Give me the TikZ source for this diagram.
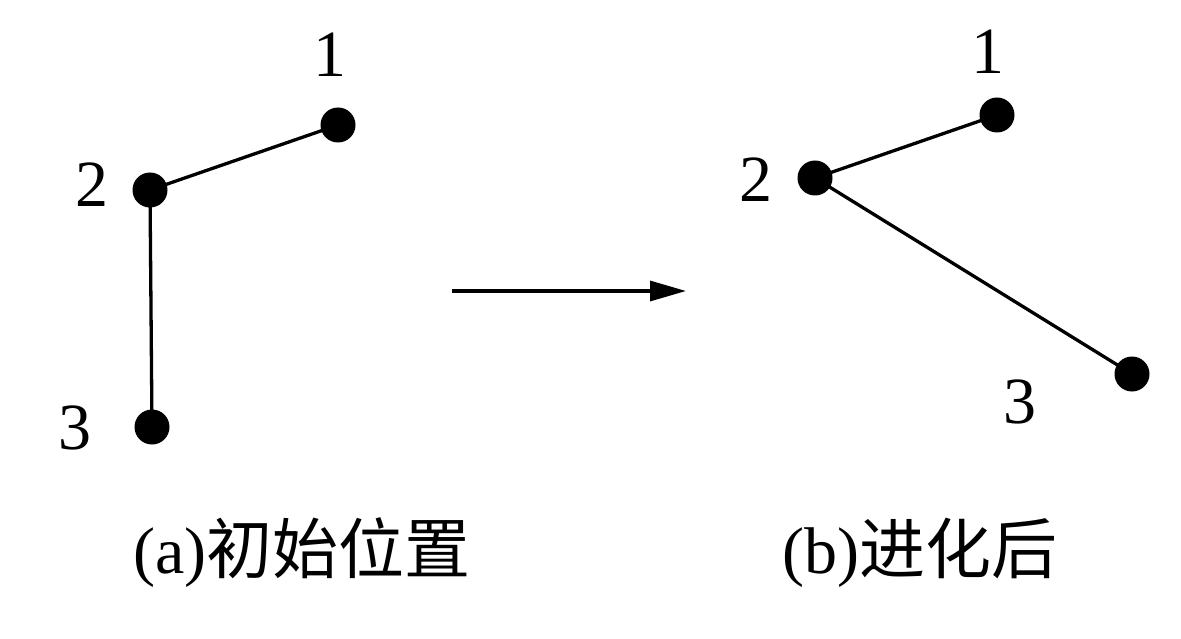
\documentclass[tikz,border=0pt]{standalone}
\usepackage{fontspec}
\setmainfont{Liberation Serif}
\newfontfamily\cjk{Noto Sans CJK SC}
\usetikzlibrary{arrows.meta}
\begin{document}
\begin{tikzpicture}[x=1pt,y=-1pt,
  dot/.style={circle,fill=black,inner sep=0pt,minimum size=35pt},
  num/.style={font=\fontsize{66}{66}\selectfont,inner sep=0pt},
  captext/.style={font=\fontsize{66}{66}\selectfont,inner sep=0pt},
  link/.style={line width=3.3pt}]
\useasboundingbox (0,0) rectangle (1181,639);
% (a)
\node[dot] (a1) at (338,125) {};
\node[dot] (a2) at (150,190) {};
\node[dot] (a3) at (152,427) {};
\draw[link] (a2.center) -- (a1.center);
\draw[link] (a2.center) -- (a3.center);
\node[num] (la1) at (330,55) {1};
\node[num] (la2) at (92,185) {2};
\node[num] (la3) at (75,428) {3};
% (b)
\node[dot] (b1) at (997,115) {};
\node[dot] (b2) at (815,178) {};
\node[dot] (b3) at (1132,374) {};
\draw[link] (b2.center) -- (b1.center);
\draw[link] (b2.center) -- (b3.center);
\node[num] (lb1) at (988,52) {1};
\node[num] (lb2) at (756,180) {2};
\node[num] (lb3) at (1020,402) {3};
% arrow
\coordinate (s) at (452,291);
\coordinate (e) at (686,291);
\draw[line width=3.3pt,-{Triangle[length=36pt,width=20pt]}] (s) -- (e);
% captions
\node[captext] (ca) at (302,553) {(a){\cjk 初始位置}};
\node[captext] (cb) at (920,553) {(b){\cjk 进化后}};
\end{tikzpicture}
\end{document}
